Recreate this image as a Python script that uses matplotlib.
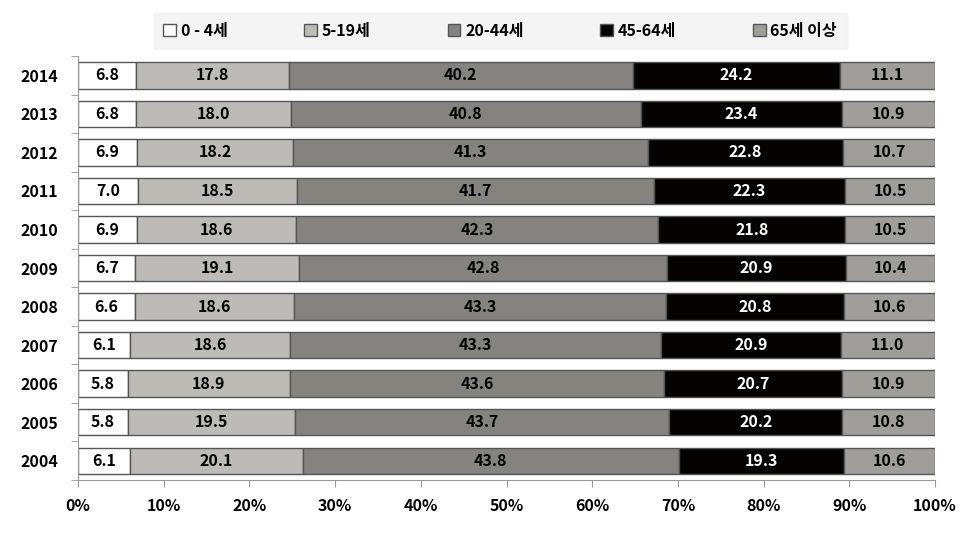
import numpy as np
import matplotlib.pyplot as plt

plt.rcParams['font.family'] = ['Noto Sans CJK KR', 'DejaVu Sans']

years = ['2014', '2013', '2012', '2011', '2010', '2009', '2008', '2007', '2006', '2005', '2004']
groups = ['0 - 4세', '5-19세', '20-44세', '45-64세', '65세 이상']

age_0_4 = [6.8, 6.8, 6.9, 7.0, 6.9, 6.7, 6.6, 6.1, 5.8, 5.8, 6.1]
age_5_19 = [17.8, 18.0, 18.2, 18.5, 18.6, 19.1, 18.6, 18.6, 18.9, 19.5, 20.1]
age_20_44 = [40.2, 40.8, 41.3, 41.7, 42.3, 42.8, 43.3, 43.3, 43.6, 43.7, 43.8]
age_45_64 = [24.2, 23.4, 22.8, 22.3, 21.8, 20.9, 20.8, 20.9, 20.7, 20.2, 19.3]
age_65 = [11.1, 10.9, 10.7, 10.5, 10.5, 10.4, 10.6, 11.0, 10.9, 10.8, 10.6]

colors = ['#ffffff', '#bdbbb7', '#858380', '#050202', '#a09e9a']
text_colors = ['black', 'black', 'black', 'white', 'black']

data = np.array([age_0_4, age_5_19, age_20_44, age_45_64, age_65])
pct = data / data.sum(axis=0) * 100

fig = plt.figure(figsize=(9.75, 5.35), dpi=100)
ax = fig.add_axes([0.08, 0.103, 0.879, 0.792])

y = np.arange(len(years))[::-1]
left = np.zeros(len(years))
for i, g in enumerate(groups):
    bars = ax.barh(y, pct[i], left=left, height=0.68, color=colors[i],
                   edgecolor='#555555', linewidth=1.0, label=g)
    for j, b in enumerate(bars):
        ax.text(left[j] + pct[i][j] / 2, y[j], f'{data[i][j]:.1f}',
                ha='center', va='center', fontsize=11.5, fontweight='bold',
                color=text_colors[i])
    left += pct[i]

ax.set_xlim(0, 100)
ax.set_ylim(-0.5, len(years) - 0.5)
ax.set_xticks(np.arange(0, 101, 10))
ax.set_xticklabels([f'{v}%' for v in range(0, 101, 10)], fontsize=11.5, fontweight='bold')
ax.set_yticks(y)
ax.set_yticklabels(years, fontsize=11.5, fontweight='bold')
ax.set_yticks(np.arange(-0.5, len(years), 1), minor=True)
ax.tick_params(axis='y', which='major', length=0, pad=14)
ax.tick_params(axis='y', which='minor', length=5, color='#999999')
ax.tick_params(axis='x', length=5, color='#999999', pad=8)

for s in ['top', 'right']:
    ax.spines[s].set_visible(False)
for s in ['left', 'bottom']:
    ax.spines[s].set_color('#999999')

leg = fig.legend(loc='upper center', bbox_to_anchor=(0.513, 0.99), ncol=5,
                 frameon=True, fancybox=False, handlelength=0.8, handleheight=0.8,
                 handletextpad=0.3, columnspacing=4.8, borderpad=0.6,
                 prop={'weight': 'bold', 'size': 11.5})
leg.get_frame().set_facecolor('#f2f2f2')
leg.get_frame().set_edgecolor('#f2f2f2')

fig.savefig('out.png', dpi=100)
